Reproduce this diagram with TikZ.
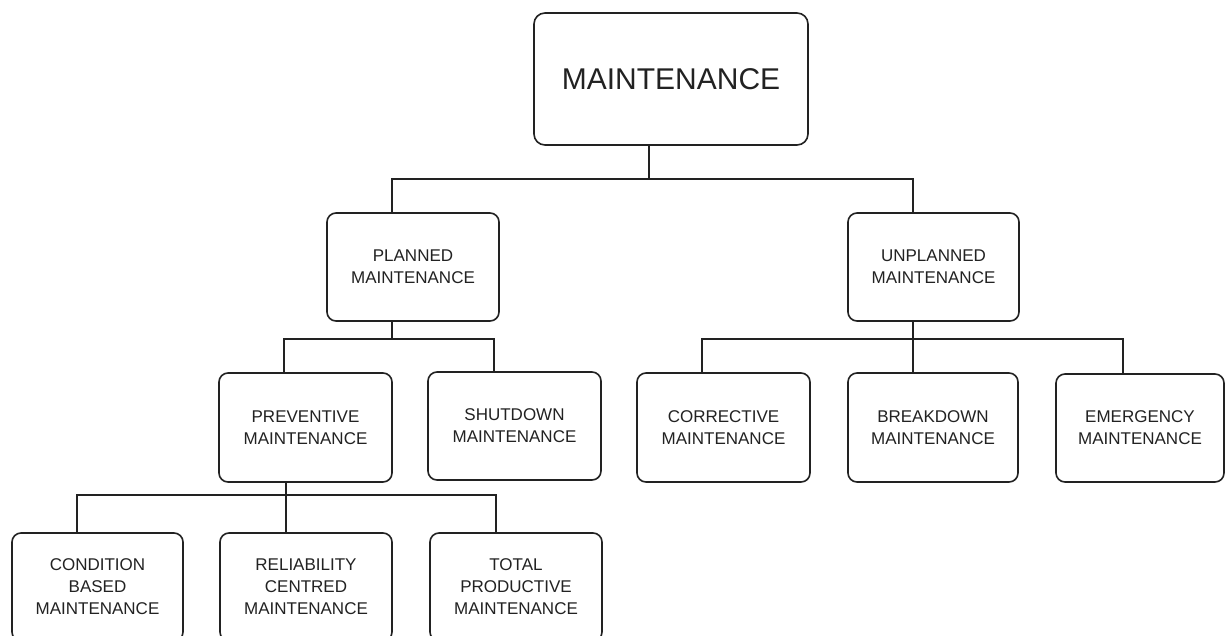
\documentclass[tikz,border=0pt]{standalone}
\usepackage{fontspec}
\setmainfont{Liberation Sans}
\usetikzlibrary{calc}
\definecolor{ink}{HTML}{222222}
\begin{document}
\begin{tikzpicture}[x=1pt,y=-1pt,
  box/.style={draw=ink, line width=1.6pt, rounded corners=9pt, fill=white,
    inner sep=0pt, align=center, text=ink,
    font=\fontsize{17}{22}\selectfont},
  bigbox/.style={box, rounded corners=11pt, font=\fontsize{30}{36}\selectfont},
  conn/.style={draw=ink, line width=1.6pt}]
\useasboundingbox (0,0) rectangle (1226,635);
\clip (0,0) rectangle (1226,635);
\fill[white] (0,0) rectangle (1226,635);

% nodes
\node[bigbox, minimum width=274pt, minimum height=132pt] (top) at (671,79) {MAINTENANCE};
\node[box, minimum width=172pt, minimum height=108pt] (planned) at (413,267) {PLANNED\\MAINTENANCE};
\node[box, minimum width=171pt, minimum height=108pt] (unplanned) at (933.5,267) {UNPLANNED\\MAINTENANCE};
\node[box, minimum width=173pt, minimum height=109pt] (preventive) at (305.5,427.5) {PREVENTIVE\\MAINTENANCE};
\node[box, minimum width=173pt, minimum height=108pt] (shutdown) at (514.5,426) {SHUTDOWN\\MAINTENANCE};
\node[box, minimum width=173pt, minimum height=109pt] (corrective) at (723.5,427.5) {CORRECTIVE\\MAINTENANCE};
\node[box, minimum width=170pt, minimum height=109pt] (breakdown) at (933,427.5) {BREAKDOWN\\MAINTENANCE};
\node[box, minimum width=168pt, minimum height=108pt] (emergency) at (1140,428) {EMERGENCY\\MAINTENANCE};
\node[box, minimum width=171pt, minimum height=108pt] (condition) at (97.5,587) {CONDITION\\BASED\hspace*{16pt}\\MAINTENANCE};
\node[box, minimum width=172pt, minimum height=108pt] (reliability) at (306,587) {RELIABILITY\\CENTRED\\MAINTENANCE};
\node[box, minimum width=172pt, minimum height=108pt] (total) at (516,587) {TOTAL\\PRODUCTIVE\\MAINTENANCE};

% bus junctions
\coordinate (j0) at (649,179);
\coordinate (j1) at (392,339);
\coordinate (j2) at (913,339);
\coordinate (j3) at (286,495);

% connectors
\draw[conn] (top.south -| j0) -- (j0);
\draw[conn] ($(planned.north)+(-21,0)$) |- (j0) -| ($(unplanned.north)+(-20.5,0)$);

\draw[conn] (planned.south -| j1) -- (j1);
\draw[conn] ($(preventive.north)+(-21.5,0)$) |- (j1) -| ($(shutdown.north)+(-20.5,0)$);

\draw[conn] (unplanned.south -| j2) -- (j2);
\draw[conn] ($(corrective.north)+(-21.5,0)$) |- (j2) -| ($(emergency.north)+(-17,0)$);
\draw[conn] (breakdown.north -| j2) -- (j2);

\draw[conn] (preventive.south -| j3) -- (j3);
\draw[conn] ($(condition.north)+(-20.5,0)$) |- (j3) -| ($(total.north)+(-20,0)$);
\draw[conn] (reliability.north -| j3) -- (j3);
\end{tikzpicture}
\end{document}
